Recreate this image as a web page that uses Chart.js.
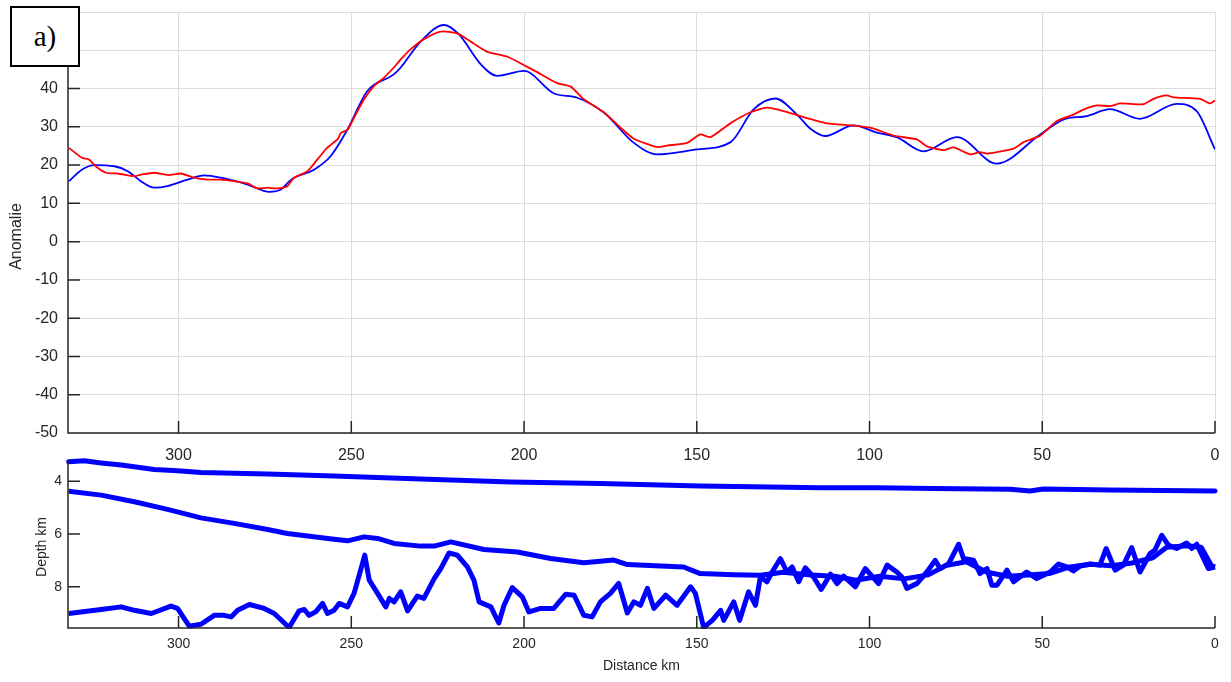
<!DOCTYPE html>
<html>
<head>
<meta charset="utf-8">
<script src="https://cdn.jsdelivr.net/npm/chart.js@4/dist/chart.umd.min.js"></script>
<style>
  html, body { margin: 0; padding: 0; background: #fff; }
  #wrap { position: relative; width: 1231px; height: 682px; overflow: hidden; }
  canvas { position: absolute; left: 0; }
  #topChart { top: 0; }
  #botChart { top: 440px; }
  #tag {
    position: absolute; left: 10px; top: 6px; width: 66px; height: 57px;
    border: 2px solid #000; background: #fff;
    font: 29px "Liberation Serif", "Times New Roman", serif; color: #000;
    display: flex; align-items: center; justify-content: center;
  }
</style>
</head>
<body>
<div id="wrap">
  <canvas id="topChart" width="1231" height="470"></canvas>
  <canvas id="botChart" width="1231" height="242"></canvas>
  <div id="tag">a)</div>
</div>
<script>
// Anomaly profile (distance km -> anomaly)
const redKm = [331.7,328,326,324,321,317.6,312.8,310.9,307,303,299.3,295.5,291.6,287.7,283.9,280,277.2,274.3,271.4,268.5,
  266.6,262.7,259.8,257,254,253,251,249.2,246.3,243.4,240.6,237.7,235.7,232.8,229,224.1,219.3,214.5,210.6,204.8,
  200,196.2,190.4,186.5,182.7,176.9,172.1,168.2,161.5,158.6,152.8,149,146,140.3,134.5,129.7,124.8,120,116.2,112.3,
  105.6,99.8,93,86.3,83.4,78.6,75.7,70.8,68,66,63.1,58.3,55.4,50.6,45.8,41,38.1,34.2,30.4,27.5,
  20.7,17.8,14,12,4.3,1.4,0];
const redVal = [24.5,21.9,21.5,19.7,18,17.8,17.1,17.5,18,17.4,17.8,16.7,16.2,16.2,15.8,15.2,13.9,14.1,13.9,14.5,
  16.7,18.4,21.5,24.5,26.7,28.4,29.3,32.4,37.2,40.7,42.8,45.5,47.6,50.3,52.9,54.9,54.4,51.7,49.6,48.3,
  46.1,44.3,41.4,40.5,37.2,33.8,29.8,26.9,24.7,25.1,25.8,28,27.3,30.9,33.8,35,34.1,32.8,31.8,30.9,
  30.4,29.8,27.7,26.7,24.9,23.9,24.6,22.8,23.4,23,23.4,24.3,26,27.7,31.5,33.2,34.5,35.6,35.4,36.1,
  35.9,37.3,38.2,37.7,37.3,36.1,36.9];

const blueKm = [331.7,328,324.3,318.6,314.7,310.9,307,303.2,297.4,292.6,287.7,280,273.7,270.4,267.4,260.8,256,251.1,245.4,237.7,
  235.7,230,223.2,218.9,212.5,207.8,200,191.3,184.6,176.9,168.2,161.5,149.9,140.2,133.5,127.2,121,117.1,112.8,104.6,
  97.9,92.1,84.4,74.7,63.2,50.6,43.9,37.1,30.4,21.7,11.1,5.3,0];
const blueVal = [15.8,18.8,20,19.7,18.4,15.8,14.1,14.5,16.2,17.3,16.7,14.9,13,13.6,16.2,18.8,22.3,29.3,39.3,43.7,
  45.5,52.2,56.6,54.2,46.3,43.3,44.6,38.7,37.6,33.7,25.8,22.8,24.1,26,34.6,37.4,33.2,29.5,27.6,30.4,
  28.5,27.3,23.6,27.3,20.4,28,31.9,32.8,34.6,32.1,36,34.1,24.1];

const anomalyTicks = [-50,-40,-30,-20,-10,0,10,20,30,40,50,60];
const distTicks = [300,250,200,150,100,50,0];

// Depth section (distance km -> depth km)
const seaKm = [331.8,327.3,322.4,316.6,307,300.3,293.5,274.2,255,229.9,203.9,177.9,149,114.2,97.8,81.5,59.3,53.5,49.7,30.4,0];
const seaDepth = [3.27,3.23,3.31,3.39,3.56,3.61,3.67,3.73,3.81,3.92,4.03,4.09,4.18,4.25,4.25,4.28,4.31,4.37,4.3,4.34,4.37];

const baseKm = [331.8,322.4,312.8,303.2,293.5,283.9,274.2,268.5,255,251.1,246.3,242.4,237.6,229.9,226,221.2,211.6,201.9,192.3,182.7,
  174,170.1,153.8,149,139.3,131.6,125,117,110,104,97,90,83,78,72,66,60,54,48,42,36,30,24,18,14,8,4,1,0];
const baseDepth = [4.38,4.53,4.78,5.07,5.39,5.6,5.83,5.98,6.2,6.26,6.11,6.17,6.36,6.46,6.46,6.3,6.59,6.68,6.93,7.09,
  6.99,7.16,7.25,7.5,7.54,7.56,7.45,7.55,7.6,7.75,7.6,7.7,7.55,7.2,7.05,7.45,7.6,7.55,7.5,7.25,7.15,7.2,7.1,6.9,6.5,6.45,6.5,7.2,7.25];

const mohoKm = [331.8,322.4,316.6,312.8,307.9,302.2,300.3,296.9,293.5,289.7,286.8,284.8,282.9,279.5,275.2,272.3,268,265.1,263.6,262.2,
  260.3,258.3,256.9,255,253.5,251.1,249.2,247.3,246.1,244.8,242.4,240,239,237.6,235.7,233.7,230.9,229,226,224.1,
  221.7,219.3,216.4,214.5,213,209.6,207.3,205.8,203.4,200.5,198.6,195.2,191.4,187.9,185.5,182.7,180.3,177.9,175,172.6,
  170.1,168.2,166.3,164.3,162.4,159,155.7,151.8,150.4,148,145.5,143.1,142.2,139.3,137.6,135,133,131.6,129.7,128.2,
  125.8,123.9,122.4,120.5,118.6,116.2,114,111.3,109.4,107.5,104.1,101.2,97.4,94.9,92.1,90.6,89.2,86.3,83.4,81,
  79.5,77.1,74.2,72.8,69.9,68,66,64.6,63.1,60.2,58.3,54.5,51.6,47.7,45.3,42.9,41,39,36.1,33.3,
  31.5,28.9,26.5,24.1,21.7,18.8,17.4,15.4,13.5,11.1,8.2,6.7,5.3,1.9,0];
const mohoDepth = [9.01,8.86,8.76,8.89,9.01,8.73,8.82,9.49,9.42,9.08,9.08,9.14,8.89,8.67,8.82,9.01,9.54,8.91,8.86,9.08,
  8.95,8.63,9.01,8.89,8.63,8.76,8.25,7.37,6.8,7.75,8.25,8.76,8.44,8.57,8.19,8.91,8.35,8.44,7.69,7.31,
  6.72,6.8,7.25,7.75,8.57,8.76,9.37,8.7,8.03,8.38,8.95,8.82,8.82,8.28,8.32,9.08,9.14,8.57,8.25,7.87,
  8.99,8.57,8.7,8.06,8.82,8.32,8.7,8.0,8.25,9.54,9.27,8.89,9.27,8.57,9.27,8.19,8.7,7.63,7.81,7.44,
  6.93,7.44,7.25,7.81,7.28,7.63,8.1,7.52,7.88,7.6,8.0,7.31,7.88,7.18,7.44,7.63,8.06,7.88,7.44,7.0,
  7.31,7.12,6.39,6.93,6.99,7.5,7.31,7.94,7.94,7.37,7.81,7.44,7.69,7.44,7.14,7.25,7.4,7.21,7.14,7.18,
  6.55,7.37,7.18,6.52,7.44,6.74,6.61,6.05,6.42,6.55,6.34,6.55,6.39,7.31,7.25];
const depthTicks = [4,6,8];

const pts = (xs, ys) => xs.map((x, i) => ({ x: x, y: ys[i] }));
const AX = '#262626';
Chart.defaults.font.family = '"Liberation Sans", Arial, sans-serif';
Chart.defaults.color = AX;

// axis lines, inward tick marks, axis titles (MATLAB look)
const deco = {
  id: 'deco',
  afterDatasetsDraw(chart, args, o) {
    const { ctx, chartArea: a, scales: { x, y } } = chart;
    ctx.save();
    ctx.strokeStyle = AX; ctx.lineWidth = 1.5;
    ctx.beginPath();
    ctx.moveTo(a.left, a.top); ctx.lineTo(a.left, a.bottom); ctx.lineTo(a.right, a.bottom);
    x.ticks.forEach(t => { const px = x.getPixelForValue(t.value); ctx.moveTo(px, a.bottom); ctx.lineTo(px, a.bottom - 12); });
    y.ticks.forEach(t => { const py = y.getPixelForValue(t.value); ctx.moveTo(a.left, py); ctx.lineTo(a.left + 12, py); });
    ctx.stroke();
    ctx.fillStyle = AX;
    ctx.font = o.size + 'px "Liberation Sans", Arial, sans-serif';
    ctx.textAlign = 'center'; ctx.textBaseline = 'middle';
    ctx.save();
    ctx.translate(o.yTitleX, (a.top + a.bottom) / 2 + o.yTitleOff);
    ctx.rotate(-Math.PI / 2);
    ctx.fillText(o.yTitle, 0, 0);
    ctx.restore();
    if (o.xTitle) ctx.fillText(o.xTitle, (a.left + a.right) / 2, a.bottom + o.xTitleOff);
    ctx.restore();
  }
};

const keep = list => s => { s.ticks = list.map(v => ({ value: v })); };
const fitY = w => s => { s.width = w; s.paddingTop = 0; s.paddingBottom = 0; };
const fitX = h => s => { s.height = h; s.paddingLeft = 0; s.paddingRight = 0; };

new Chart(document.getElementById('topChart'), {
  type: 'line',
  data: {
    datasets: [
      { data: pts(redKm, redVal), borderColor: '#ff0000', borderWidth: 1.8, pointRadius: 0, tension: 0.2 },
      { data: pts(blueKm, blueVal), borderColor: '#0000ff', borderWidth: 1.8, pointRadius: 0, cubicInterpolationMode: 'monotone' }
    ]
  },
  options: {
    responsive: false, animation: false,
    layout: { padding: { top: 12, right: 16, left: 0, bottom: 0 } },
    plugins: { legend: { display: false }, tooltip: { enabled: false },
      deco: { yTitle: 'Anomalie', yTitleX: 17, yTitleOff: 14, size: 16 } },
    scales: {
      x: { type: 'linear', reverse: true, min: 0, max: 332,
        afterBuildTicks: keep(distTicks),
        afterFit: fitX(37),
        grid: { color: '#dcdcdc', drawTicks: false }, border: { display: false },
        ticks: { font: { size: 16 }, padding: 13, maxRotation: 0 } },
      y: { min: -50, max: 60,
        afterBuildTicks: keep(anomalyTicks),
        afterFit: fitY(68),
        grid: { color: '#dcdcdc', drawTicks: false }, border: { display: false },
        // 50 and 60 sit under the panel tag
        ticks: { font: { size: 16 }, padding: 10, callback: v => (v > 40 ? '' : v) } }
    }
  },
  plugins: [deco]
});

new Chart(document.getElementById('botChart'), {
  type: 'line',
  data: {
    datasets: [
      { data: pts(seaKm, seaDepth), borderColor: '#0000ff', borderWidth: 5, pointRadius: 0, tension: 0, clip: 3, borderJoinStyle: 'round', borderCapStyle: 'round' },
      { data: pts(baseKm, baseDepth), borderColor: '#0000ff', borderWidth: 5, pointRadius: 0, tension: 0, clip: 1, borderJoinStyle: 'round' },
      { data: pts(mohoKm, mohoDepth), borderColor: '#0000ff', borderWidth: 5, pointRadius: 0, tension: 0, clip: 1, borderJoinStyle: 'round' }
    ]
  },
  options: {
    responsive: false, animation: false,
    layout: { padding: { top: 20, right: 16, left: 0, bottom: 0 } },
    plugins: { legend: { display: false }, tooltip: { enabled: false },
      deco: { yTitle: 'Depth km', yTitleX: 42, yTitleOff: 3, xTitle: 'Distance km', xTitleOff: 38, size: 14 } },
    scales: {
      x: { type: 'linear', reverse: true, min: 0, max: 332,
        afterBuildTicks: keep(distTicks),
        afterFit: fitX(54),
        grid: { display: false, drawTicks: false }, border: { display: false },
        ticks: { font: { size: 14 }, padding: 8, maxRotation: 0 } },
      y: { reverse: true, min: 3.2, max: 9.56,
        afterBuildTicks: keep(depthTicks),
        afterFit: fitY(68),
        grid: { display: false, drawTicks: false }, border: { display: false },
        ticks: { font: { size: 14 }, padding: 6 } }
    }
  },
  plugins: [deco]
});
</script>
</body>
</html>
